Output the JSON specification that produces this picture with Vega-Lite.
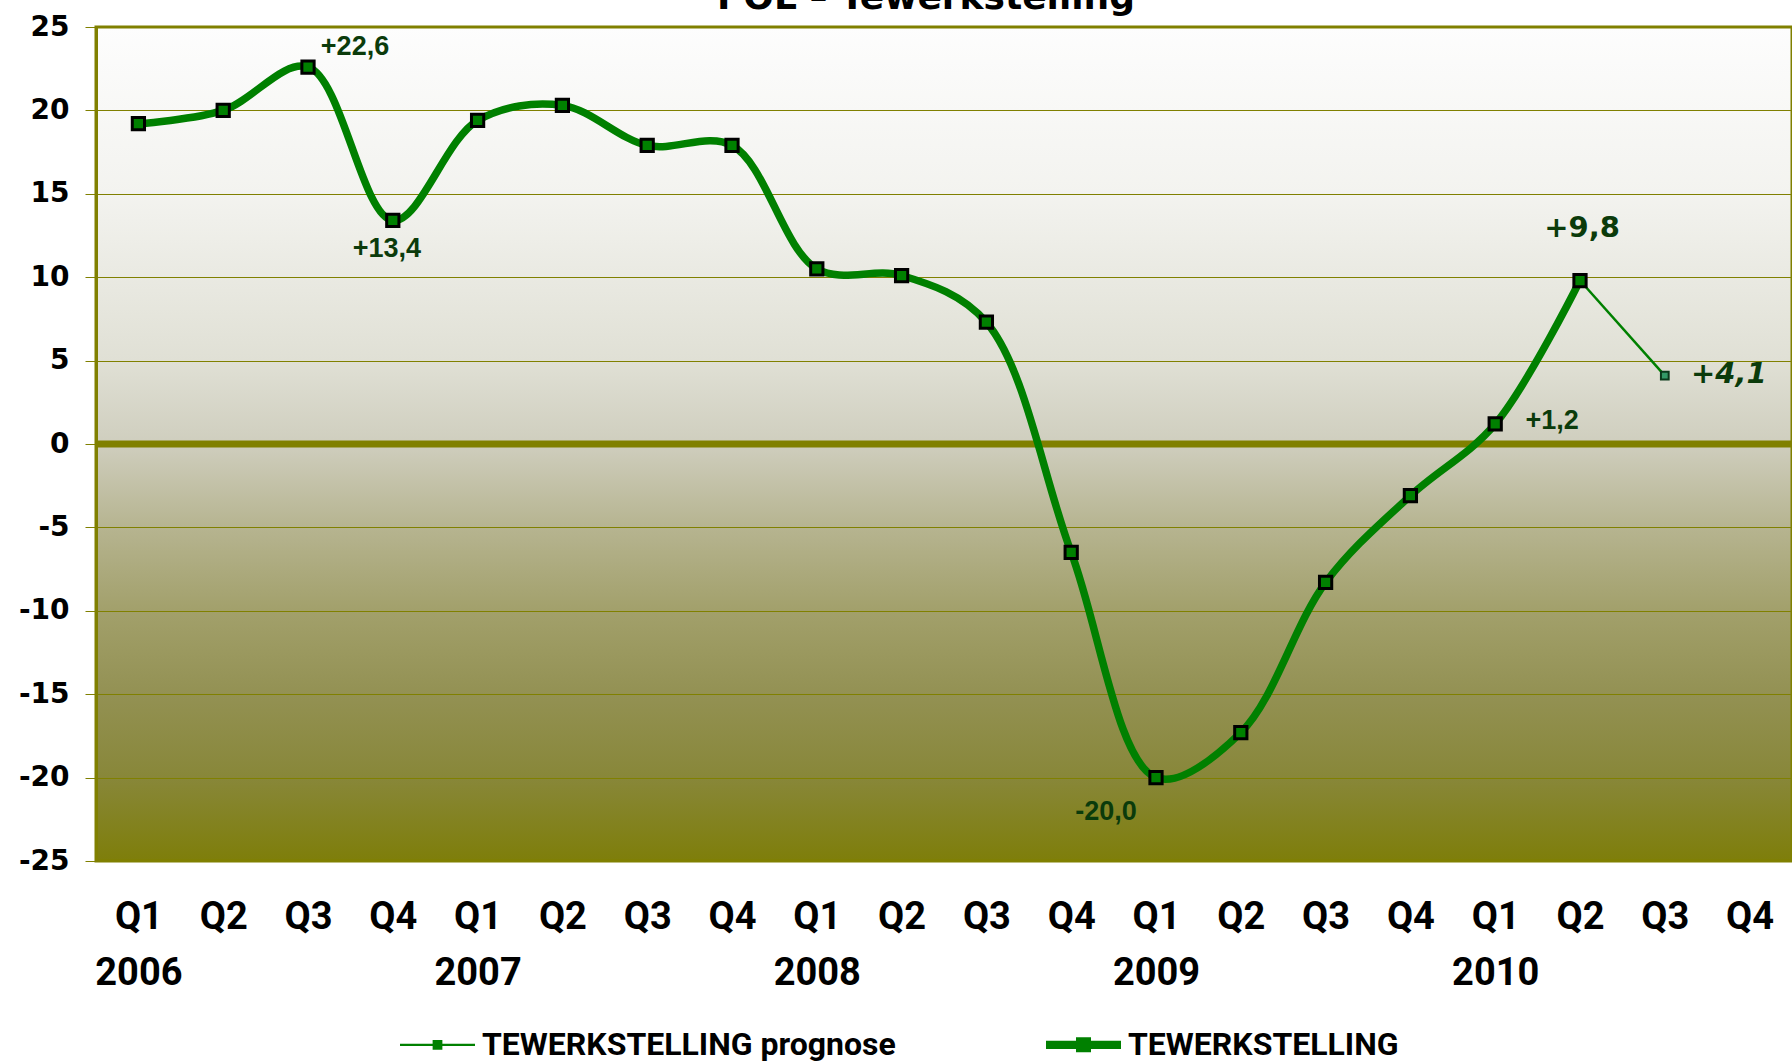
{
  "$schema": "https://vega.github.io/schema/vega-lite/v6.json",
  "width": 1696,
  "height": 834,
  "autosize": {"type": "none"},
  "padding": {"left": 96, "top": 27, "right": 0, "bottom": 203},
  "background": "white",
  "title": {"text": "POL – Tewerkstelling", "font": "DejaVu Sans", "fontSize": 36, "fontWeight": "bold", "color": "black", "baseline": "alphabetic", "offset": 0, "dy": 32, "anchor": "middle", "dx": -18},
  "config": {
    "view": {
      "fill": {"gradient": "linear", "x1": 0, "y1": 0, "x2": 0, "y2": 1, "stops": [
        {"offset": 0, "color": "#fdfdfd"},
        {"offset": 0.2, "color": "#f3f3ef"},
        {"offset": 0.4, "color": "#e0e0d5"},
        {"offset": 0.5, "color": "#cfcebe"},
        {"offset": 0.6, "color": "#b6b490"},
        {"offset": 0.7, "color": "#a2a06b"},
        {"offset": 0.8, "color": "#939153"},
        {"offset": 0.9, "color": "#888739"},
        {"offset": 1, "color": "#7e7e0a"}
      ]},
      "stroke": "#808000",
      "strokeWidth": 3
    }
  },
  "data": {"values": [
    {"period": "2006 Q1", "series": "TEWERKSTELLING", "value": 19.2},
    {"period": "2006 Q2", "series": "TEWERKSTELLING", "value": 20.0},
    {"period": "2006 Q3", "series": "TEWERKSTELLING", "value": 22.6, "label": "+22,6"},
    {"period": "2006 Q4", "series": "TEWERKSTELLING", "value": 13.4, "label": "+13,4"},
    {"period": "2007 Q1", "series": "TEWERKSTELLING", "value": 19.4},
    {"period": "2007 Q2", "series": "TEWERKSTELLING", "value": 20.3},
    {"period": "2007 Q3", "series": "TEWERKSTELLING", "value": 17.9},
    {"period": "2007 Q4", "series": "TEWERKSTELLING", "value": 17.9},
    {"period": "2008 Q1", "series": "TEWERKSTELLING", "value": 10.5},
    {"period": "2008 Q2", "series": "TEWERKSTELLING", "value": 10.1},
    {"period": "2008 Q3", "series": "TEWERKSTELLING", "value": 7.3},
    {"period": "2008 Q4", "series": "TEWERKSTELLING", "value": -6.5},
    {"period": "2009 Q1", "series": "TEWERKSTELLING", "value": -20.0, "label": "-20,0"},
    {"period": "2009 Q2", "series": "TEWERKSTELLING", "value": -17.3},
    {"period": "2009 Q3", "series": "TEWERKSTELLING", "value": -8.3},
    {"period": "2009 Q4", "series": "TEWERKSTELLING", "value": -3.1},
    {"period": "2010 Q1", "series": "TEWERKSTELLING", "value": 1.2, "label": "+1,2"},
    {"period": "2010 Q2", "series": "TEWERKSTELLING", "value": 9.8, "label": "+9,8"},
    {"period": "2010 Q2", "series": "TEWERKSTELLING prognose", "value": 9.8},
    {"period": "2010 Q3", "series": "TEWERKSTELLING prognose", "value": 4.1, "label": "+4,1"}
  ]},
  "layer": [
    {
      "data": {"values": [{"zero": 0}]},
      "mark": {"type": "rule", "color": "#808000", "strokeWidth": 7},
      "encoding": {
        "y": {"field": "zero", "type": "quantitative", "scale": {"domain": [-25, 25]},
          "axis": {"values": [-25, -20, -15, -10, -5, 0, 5, 10, 15, 20, 25], "labelExpr": "replace(datum.label, '−', '-')", "grid": true, "gridColor": "#808000", "gridWidth": 1, "domainColor": "#808000", "domainWidth": 3, "tickColor": "#808000", "tickSize": 11, "tickWidth": 1, "labelFont": "DejaVu Sans", "labelFontSize": 28, "labelFontWeight": "bold", "labelColor": "black", "labelPadding": 16, "title": null}}
      }
    },
    {
      "transform": [{"filter": "datum.series == 'TEWERKSTELLING prognose'"}],
      "mark": {"type": "line", "strokeWidth": 2.5},
      "encoding": {
        "x": {"field": "period", "type": "ordinal"},
        "y": {"field": "value", "type": "quantitative"},
        "color": {"field": "series", "type": "nominal", "scale": {"domain": ["TEWERKSTELLING prognose", "TEWERKSTELLING"], "range": ["#008000", "#008000"]}}
      }
    },
    {
      "transform": [{"filter": "datum.series == 'TEWERKSTELLING'"}],
      "mark": {"type": "line", "strokeWidth": 7.5, "interpolate": "catmull-rom", "strokeCap": "round", "strokeJoin": "round"},
      "encoding": {
        "x": {"field": "period", "type": "ordinal",
          "scale": {"domain": ["2006 Q1","2006 Q2","2006 Q3","2006 Q4","2007 Q1","2007 Q2","2007 Q3","2007 Q4","2008 Q1","2008 Q2","2008 Q3","2008 Q4","2009 Q1","2009 Q2","2009 Q3","2009 Q4","2010 Q1","2010 Q2","2010 Q3","2010 Q4"], "padding": 0.5},
          "axis": {"title": null, "domain": false, "ticks": false, "grid": false, "labelAngle": 0, "labelAlign": "center", "labelFont": "Roboto", "labelFontSize": 38, "labelFontWeight": "bold", "labelColor": "black", "labelPadding": 37, "labelLineHeight": 56, "labelBaseline": "top", "labelOverlap": false, "labelBound": false, "labelFlush": false,
            "labelExpr": "split(datum.value, ' ')[1] == 'Q1' ? [split(datum.value, ' ')[1], split(datum.value, ' ')[0]] : split(datum.value, ' ')[1]"}},
        "y": {"field": "value", "type": "quantitative"},
        "color": {"field": "series", "type": "nominal",
          "legend": {"title": null, "orient": "none", "direction": "horizontal", "legendX": 304, "legendY": 980, "labelFont": "Roboto", "labelFontSize": 32, "labelFontWeight": "bold", "labelColor": "black", "labelLimit": 0, "labelOffset": 7, "columnPadding": 150, "symbolSize": 5625,
            "encode": {"symbols": {"update": {
              "shape": {"signal": "datum.value === 'TEWERKSTELLING' ? 'M-1,-0.11H1V0.11H-1Z M-0.2,-0.2H0.2V0.2H-0.2Z' : 'M-1,-0.03H1V0.03H-1Z M-0.13,-0.13H0.13V0.13H-0.13Z'"},
              "fill": {"value": "#008000"},
              "stroke": {"value": "#008000"},
              "strokeWidth": {"value": 0},
              "opacity": {"value": 1},
              "size": {"value": 5625}
            }}}}}
      }
    },
    {
      "transform": [{"filter": "datum.series == 'TEWERKSTELLING'"}],
      "mark": {"type": "point", "shape": "square", "filled": true, "fill": "#008000", "stroke": "black", "strokeWidth": 3, "size": 150, "opacity": 1},
      "encoding": {
        "x": {"field": "period", "type": "ordinal"},
        "y": {"field": "value", "type": "quantitative"}
      }
    },
    {
      "transform": [{"filter": "datum.series == 'TEWERKSTELLING prognose' && datum.period == '2010 Q3'"}],
      "mark": {"type": "point", "shape": "square", "filled": true, "fill": "#339966", "stroke": "#0b3b1b", "strokeWidth": 2, "size": 60, "opacity": 1},
      "encoding": {
        "x": {"field": "period", "type": "ordinal"},
        "y": {"field": "value", "type": "quantitative"}
      }
    },
    {
      "transform": [{"filter": "datum.period == '2006 Q3' && datum.series == 'TEWERKSTELLING'"}],
      "mark": {"type": "text", "font": "Liberation Sans", "fontSize": 27, "fontWeight": "bold", "color": "#0b3b0b", "dx": 47, "dy": -20},
      "encoding": {"x": {"field": "period", "type": "ordinal"}, "y": {"field": "value", "type": "quantitative"}, "text": {"field": "label"}}
    },
    {
      "transform": [{"filter": "datum.period == '2006 Q4' && datum.series == 'TEWERKSTELLING'"}],
      "mark": {"type": "text", "font": "Liberation Sans", "fontSize": 27, "fontWeight": "bold", "color": "#0b3b0b", "dx": -6, "dy": 29},
      "encoding": {"x": {"field": "period", "type": "ordinal"}, "y": {"field": "value", "type": "quantitative"}, "text": {"field": "label"}}
    },
    {
      "transform": [{"filter": "datum.period == '2009 Q1' && datum.series == 'TEWERKSTELLING'"}],
      "mark": {"type": "text", "font": "Liberation Sans", "fontSize": 27, "fontWeight": "bold", "color": "#0b3b0b", "dx": -50, "dy": 34},
      "encoding": {"x": {"field": "period", "type": "ordinal"}, "y": {"field": "value", "type": "quantitative"}, "text": {"field": "label"}}
    },
    {
      "transform": [{"filter": "datum.period == '2010 Q1' && datum.series == 'TEWERKSTELLING'"}],
      "mark": {"type": "text", "font": "Liberation Sans", "fontSize": 27, "fontWeight": "bold", "color": "#0b3b0b", "dx": 57, "dy": -3},
      "encoding": {"x": {"field": "period", "type": "ordinal"}, "y": {"field": "value", "type": "quantitative"}, "text": {"field": "label"}}
    },
    {
      "transform": [{"filter": "datum.period == '2010 Q2' && datum.series == 'TEWERKSTELLING'"}],
      "mark": {"type": "text", "font": "DejaVu Sans", "fontSize": 29, "fontWeight": "bold", "color": "#0b3b0b", "dx": 2, "dy": -53},
      "encoding": {"x": {"field": "period", "type": "ordinal"}, "y": {"field": "value", "type": "quantitative"}, "text": {"field": "label"}}
    },
    {
      "transform": [{"filter": "datum.period == '2010 Q3' && datum.series == 'TEWERKSTELLING prognose'"}],
      "mark": {"type": "text", "font": "DejaVu Sans", "fontSize": 29, "fontWeight": "bold", "fontStyle": "italic", "color": "#0b3b0b", "dx": 64, "dy": -2},
      "encoding": {"x": {"field": "period", "type": "ordinal"}, "y": {"field": "value", "type": "quantitative"}, "text": {"field": "label"}}
    }
  ]
}
